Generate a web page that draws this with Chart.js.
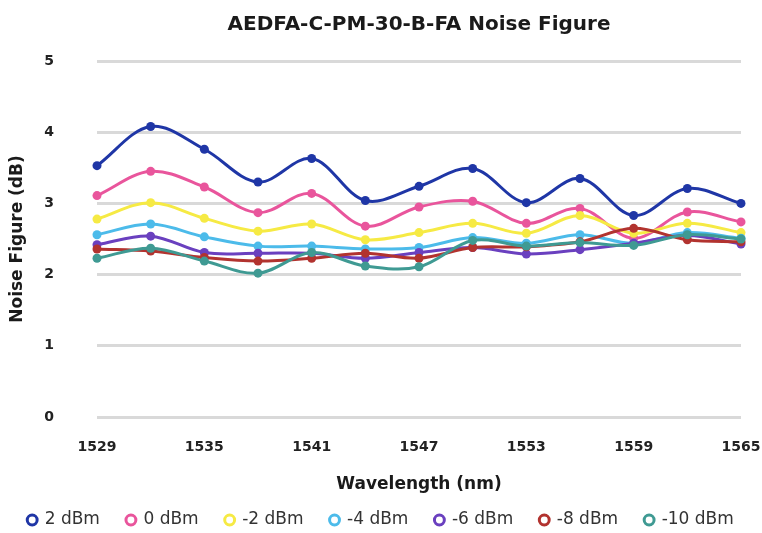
<!DOCTYPE html>
<html><head><meta charset="utf-8">
<script src="https://cdn.jsdelivr.net/npm/chart.js@4.4.1/dist/chart.umd.min.js"></script>
<style>html,body{margin:0;padding:0;background:#fff}canvas{display:block}</style>
</head><body>
<canvas id="c" width="762" height="533"></canvas>
<script>
const chartTitle = 'AEDFA-C-PM-30-B-FA Noise Figure';
const xAxisTitle = 'Wavelength (nm)';
const yAxisTitle = 'Noise Figure (dB)';
const wavelengths = [1529,1532,1535,1538,1541,1544,1547,1550,1553,1556,1559,1562,1565];
const xTickValues = [1529,1535,1541,1547,1553,1559,1565];
const yTickValues = [0,1,2,3,4,5];
const seriesLabels = ['2 dBm','0 dBm','-2 dBm','-4 dBm','-6 dBm','-8 dBm','-10 dBm'];
const nf_p2  = [3.53,4.08,3.76,3.30,3.63,3.04,3.24,3.49,3.01,3.35,2.83,3.21,3.00];
const nf_0   = [3.11,3.45,3.23,2.87,3.14,2.68,2.95,3.03,2.72,2.93,2.51,2.88,2.74];
const nf_m2  = [2.78,3.01,2.79,2.61,2.71,2.49,2.59,2.72,2.58,2.83,2.58,2.72,2.59];
const nf_m4  = [2.56,2.71,2.53,2.40,2.40,2.36,2.38,2.52,2.44,2.56,2.44,2.59,2.51];
const nf_m6  = [2.42,2.54,2.31,2.30,2.30,2.23,2.31,2.38,2.29,2.35,2.44,2.55,2.43];
const nf_m8  = [2.36,2.33,2.24,2.19,2.23,2.30,2.23,2.38,2.39,2.46,2.65,2.49,2.46];
const nf_m10 = [2.23,2.37,2.19,2.02,2.31,2.12,2.11,2.48,2.40,2.45,2.41,2.56,2.50];
const seriesValues = [nf_p2,nf_0,nf_m2,nf_m4,nf_m6,nf_m8,nf_m10];
const colors = ['#1f36a6','#e9559c','#f6ea44','#4cbbea','#6a40bf','#b2332f','#3f9a93'];

Chart.defaults.font.family = "'DejaVu Sans', sans-serif";
Chart.defaults.color = '#222';

const datasets = seriesValues.map((vals, i) => ({
  label: seriesLabels[i],
  data: wavelengths.map((w, j) => ({x: w, y: vals[j]})),
  borderColor: colors[i],
  backgroundColor: colors[i],
  pointBackgroundColor: colors[i],
  pointBorderWidth: 0,
  pointRadius: 4.5,
  borderWidth: 3,
  tension: 0.35,
  clip: false,
  order: -i
}));

new Chart(document.getElementById('c'), {
  type: 'line',
  data: {datasets},
  options: {
    responsive: false, animation: false, devicePixelRatio: 1,
    layout: {padding: {left: 0, right: 0, top: 0, bottom: -5.5}},
    plugins: {
      title: {display: true, text: chartTitle, fullSize: false, color: '#1a1a1a',
        font: {size: 20, weight: 'bold'}, padding: {top: 13, bottom: 24}},
      legend: {position: 'bottom',
        labels: {usePointStyle: true, pointStyle: 'circle', boxWidth: 8, boxHeight: 7, padding: 27,
          font: {size: 17}, color: '#333',
          generateLabels(chart) {
            const items = Chart.defaults.plugins.legend.labels.generateLabels(chart);
            items.forEach(it => {
              it.fillStyle = '#ffffff';
              it.strokeStyle = colors[it.datasetIndex];
              it.lineWidth = 3;
              it.pointStyle = 'circle';
            });
            items.sort((a, b) => a.datasetIndex - b.datasetIndex);
            return items;
          }}},
      tooltip: {enabled: false}
    },
    scales: {
      x: {type: 'linear', min: 1529, max: 1565,
        grid: {display: false, drawTicks: false}, border: {display: false},
        ticks: {padding: 22, font: {size: 14, weight: 'bold'}, color: '#222', autoSkip: false, maxRotation: 0,
          callback: v => String(v)},
        afterBuildTicks: s => { s.ticks = xTickValues.map(v => ({value: v})); },
        afterFit: s => { s.height = 67.5; s.paddingLeft = 0; s.paddingRight = 21; },
        title: {display: true, text: xAxisTitle, color: '#1a1a1a', font: {size: 17, weight: 'bold'},
          padding: {top: 0, bottom: -10.7}}
      },
      y: {min: 0, max: 5,
        grid: {color: '#d9d9d9', lineWidth: 3, drawTicks: false}, border: {display: false},
        ticks: {padding: 43, font: {size: 14, weight: 'bold'}, color: '#222', callback: v => String(v)},
        afterBuildTicks: s => { s.ticks = yTickValues.map(v => ({value: v})); },
        afterFit: s => { s.width = 97; },
        title: {display: true, text: yAxisTitle, color: '#1a1a1a', font: {size: 17, weight: 'bold'},
          padding: {top: 7, bottom: 0}}
      }
    }
  }
});
</script>
</body></html>
